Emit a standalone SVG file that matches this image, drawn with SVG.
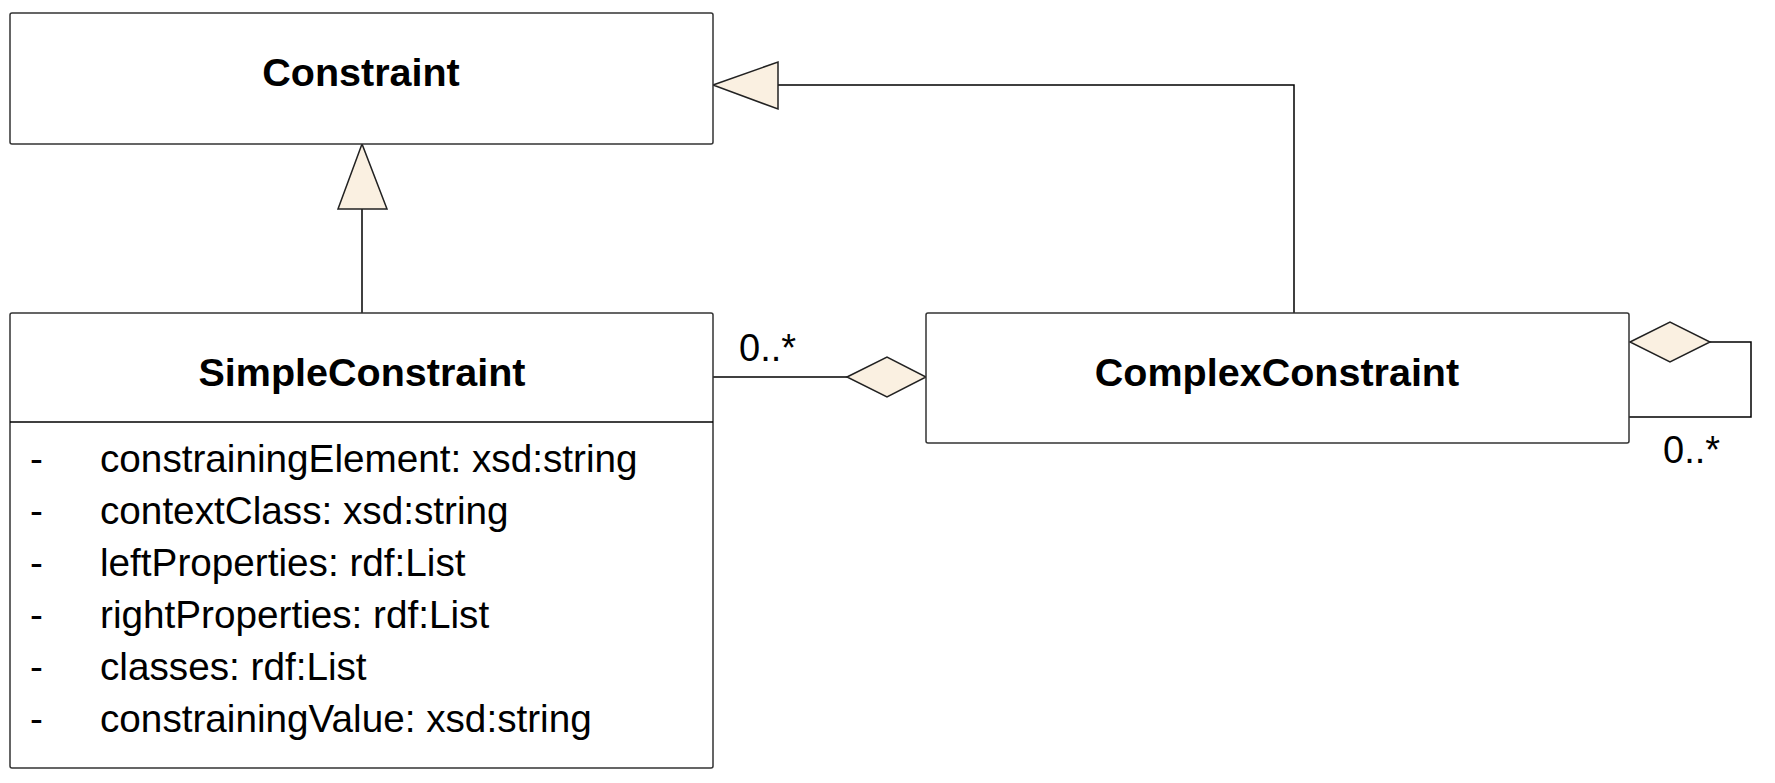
<svg xmlns="http://www.w3.org/2000/svg" width="1775" height="783" viewBox="0 0 1775 783">
<style>
.box{fill:#ffffff;stroke:#333333;stroke-width:1.5}
.line{fill:none;stroke:#000000;stroke-width:1.5}
.head{fill:#FAF0E1;stroke:#222222;stroke-width:1.5;stroke-linejoin:miter}
.title{font-family:"Liberation Sans",Arial,sans-serif;font-size:39.5px;font-weight:bold;fill:#000;text-anchor:middle}
.txt{font-family:"Liberation Sans",Arial,sans-serif;font-size:38.7px;fill:#000}
.lbl{font-family:"Liberation Sans",Arial,sans-serif;font-size:38px;fill:#000}
</style>
<rect width="1775" height="783" fill="#ffffff"/>
<g id="connectors">
  <line class="line" x1="362" y1="209" x2="362" y2="313"/>
  <polygon class="head" points="362,144 338,209 387,209"/>
  <polyline class="line" points="778,85 1294,85 1294,313"/>
  <polygon class="head" points="713,85 778,62 778,109"/>
  <line class="line" x1="713" y1="377" x2="847" y2="377"/>
  <polygon class="head" points="847,377 887,357 926,377 887,397"/>
  <text class="lbl" x="739" y="361">0..*</text>
  <polyline class="line" points="1710,342 1751,342 1751,417 1629,417"/>
  <polygon class="head" points="1630,342 1670,322 1710,342 1670,362"/>
  <text class="lbl" x="1663" y="463">0..*</text>
</g>
<g id="Constraint">
  <rect class="box" x="10" y="13" width="703" height="131" rx="2"/>
  <text class="title" x="361" y="86">Constraint</text>
</g>
<g id="SimpleConstraint">
  <rect class="box" x="10" y="313" width="703" height="455" rx="2"/>
  <line class="line" x1="10" y1="422" x2="713" y2="422"/>
  <text class="title" x="362" y="386">SimpleConstraint</text>
  <text class="txt" x="30" y="472">-</text><text class="txt" x="100" y="472">constrainingElement: xsd:string</text>
  <text class="txt" x="30" y="524">-</text><text class="txt" x="100" y="524">contextClass: xsd:string</text>
  <text class="txt" x="30" y="576">-</text><text class="txt" x="100" y="576">leftProperties: rdf:List</text>
  <text class="txt" x="30" y="628">-</text><text class="txt" x="100" y="628">rightProperties: rdf:List</text>
  <text class="txt" x="30" y="680">-</text><text class="txt" x="100" y="680">classes: rdf:List</text>
  <text class="txt" x="30" y="732">-</text><text class="txt" x="100" y="732">constrainingValue: xsd:string</text>
</g>
<g id="ComplexConstraint">
  <rect class="box" x="926" y="313" width="703" height="130" rx="2"/>
  <text class="title" x="1277" y="386">ComplexConstraint</text>
</g>
</svg>
